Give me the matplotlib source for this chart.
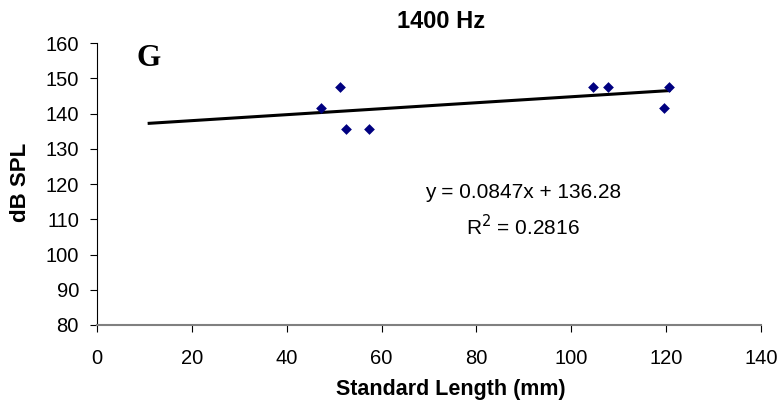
import matplotlib
matplotlib.use("Agg")
import matplotlib.pyplot as plt
import numpy as np

plt.rcParams['font.family'] = ['Liberation Sans', 'DejaVu Sans']

length_mm = [47.3, 51.2, 52.4, 57.3, 104.5, 107.7, 119.5, 120.6]
db_spl = [141.7, 147.5, 135.7, 135.7, 147.5, 147.5, 141.7, 147.5]
slope = 0.0847
intercept = 136.28
r_squared = 0.2816
trend_start = 11.0

W, H = 781, 404
fig = plt.figure(figsize=(W/100, H/100), dpi=100)
ax = fig.add_axes([97/W, 1 - 325/H, (761-97)/W, (325-43)/H])

xs = np.array([trend_start, max(length_mm)])
ax.plot(xs, slope * xs + intercept, color='black', lw=2.2, zorder=2)
ax.scatter(length_mm, db_spl, marker='D', s=30, color='#000080', zorder=3, linewidths=0)

ax.set_xlim(0, 140)
ax.set_ylim(80, 160)
ax.set_xticks(range(0, 141, 20))
ax.set_yticks(range(80, 161, 10))
for s in ['top', 'right']:
    ax.spines[s].set_visible(False)
ax.spines['left'].set_color('black')
ax.spines['bottom'].set_color('#808080')
ax.spines['bottom'].set_linewidth(1.5)
ax.tick_params(axis='both', direction='out', length=5, labelsize=14.5, color='black')
ax.tick_params(axis='x', pad=12)
ax.tick_params(axis='y', pad=8)

fig.text(441/W, 1 - 22/H, '1400 Hz', fontsize=17, fontweight='bold', ha='center', va='center')
fig.text(451/W, 1 - 389/H, 'Standard Length (mm)', fontsize=15.5, fontweight='bold',
         ha='center', va='center')
fig.text(20/W, 1 - 182/H, 'dB SPL', fontsize=16, fontweight='bold', rotation=90,
         ha='center', va='center')

fig.text(148.5/W, 1 - 58/H, 'G', fontsize=22.5, fontweight='bold',
         family=['Liberation Serif', 'DejaVu Serif'], ha='center', va='center')
fig.text(523/W, 1 - 193/H, f'y = {slope}x + {intercept}', fontsize=15,
         ha='center', va='center')
fig.text(523/W, 1 - 227/H, f'R$^2$ = {r_squared}', fontsize=15,
         ha='center', va='center')

fig.savefig('out.png', dpi=100)
